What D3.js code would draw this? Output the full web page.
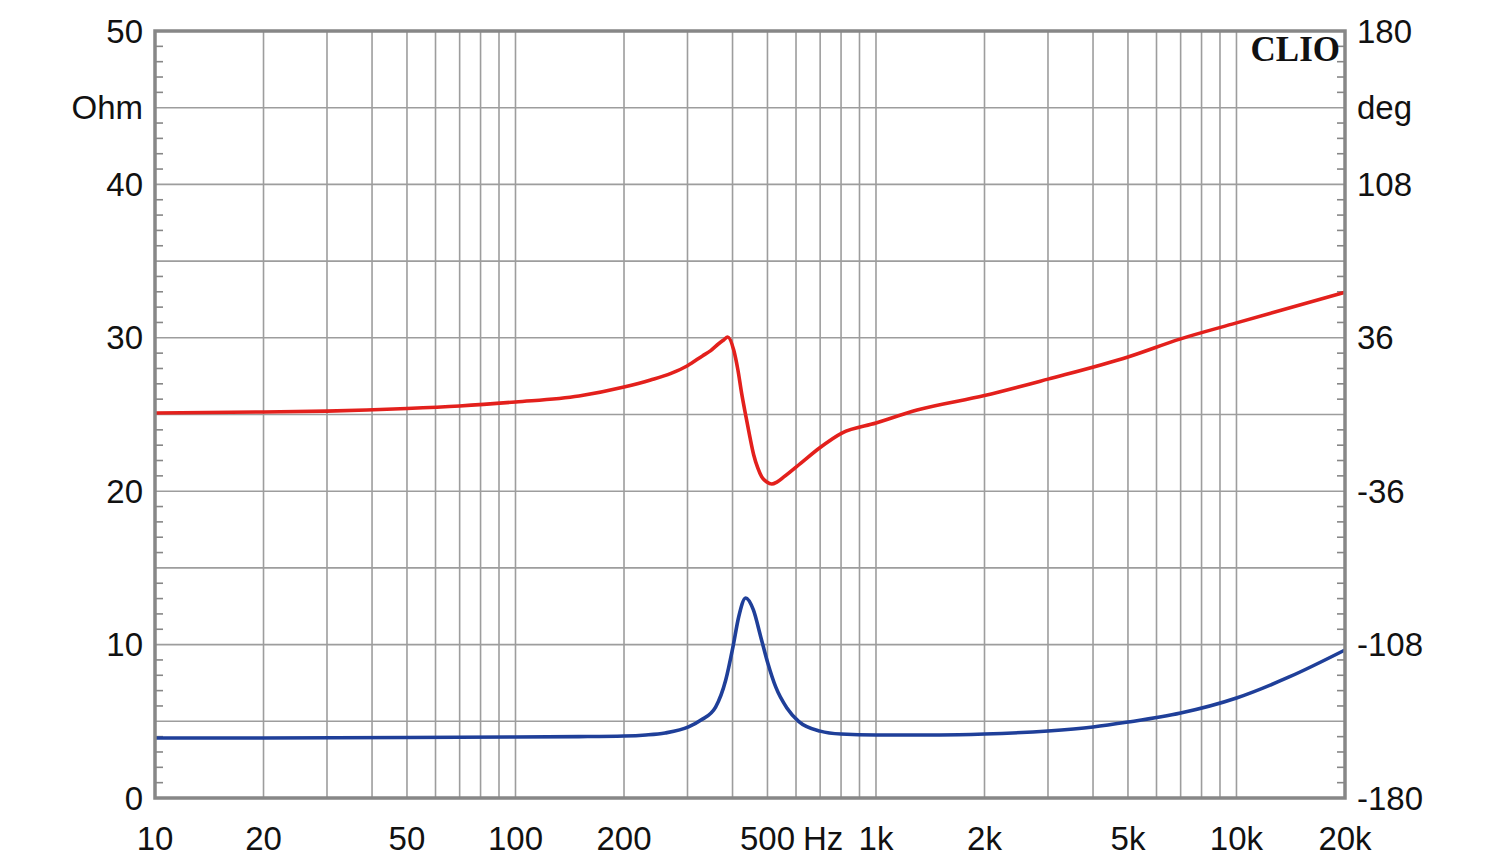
<!DOCTYPE html>
<html>
<head>
<meta charset="utf-8">
<script src="https://cdn.jsdelivr.net/npm/d3@7/dist/d3.min.js"></script>
<style>
  html, body { margin: 0; padding: 0; background: #ffffff; }
  svg { display: block; }
  text { font-family: "Liberation Sans", Arial, sans-serif; }
</style>
</head>
<body>
<svg id="chart" width="1500" height="864"></svg>
<script>
// ---- Data ----
// Impedance magnitude (Ohm), left axis
const impFreq = [10, 20, 50, 100, 150, 200, 230, 260, 302, 327, 359, 383, 401, 416, 435, 457, 479, 501, 527, 566, 610, 700, 800, 1000, 1500, 2000, 3000, 4000, 5000, 7000, 10000, 14000, 20000];
const impOhm  = [3.91, 3.91, 3.94, 3.98, 4.0, 4.04, 4.11, 4.24, 4.63, 5.08, 5.93, 7.69, 9.84, 11.8, 13.04, 12.26, 10.5, 8.8, 7.24, 5.87, 5.0, 4.36, 4.17, 4.11, 4.11, 4.17, 4.37, 4.63, 4.95, 5.54, 6.52, 7.89, 9.65];

// Impedance phase (deg), right axis
const phaseFreq = [10, 20, 30, 50, 70, 100, 150, 200, 237, 270, 300, 330, 348, 366, 378, 388, 403, 414, 424, 435, 447, 458, 470, 482, 498, 514, 531, 555, 619, 697, 804, 1000, 1300, 2000, 3000, 5000, 7000, 10000, 20000];
const phaseDeg  = [0.7, 1.2, 1.6, 2.8, 4.0, 5.9, 8.7, 12.9, 16.2, 19.3, 22.9, 27.5, 30.0, 33.2, 35.0, 36.4, 30.3, 20.9, 9.9, -0.3, -10.6, -19.0, -25.1, -29.3, -31.7, -32.6, -31.7, -29.3, -22.8, -15.7, -8.7, -4.0, 2.1, 8.9, 16.6, 27.0, 35.5, 43.0, 57.4];

// Axis labels
const xTickValues = [10, 20, 50, 100, 200, 500, 1000, 2000, 5000, 10000, 20000];
const xTickLabels = ["10", "20", "50", "100", "200", "500", "1k", "2k", "5k", "10k", "20k"];
const xGridValues = [20, 30, 40, 50, 60, 70, 80, 90, 100, 200, 300, 400, 500, 600, 700, 800, 900, 1000, 2000, 3000, 4000, 5000, 6000, 7000, 8000, 9000, 10000];
const leftTickValues = [0, 10, 20, 30, 40, 50];
const leftTickLabels = ["0", "10", "20", "30", "40", "50"];
const rightTickValues = [-180, -108, -36, 36, 108, 180];
const rightTickLabels = ["-180", "-108", "-36", "36", "108", "180"];
const leftUnit = "Ohm";
const rightUnit = "deg";
const xUnit = "Hz";
const brand = "CLIO";

// ---- Layout ----
const pL = 155, pR = 1345, pT = 31, pB = 798;
const svg = d3.select("#chart");

const x = d3.scaleLog().domain([10, 20000]).range([pL, pR]);
const yL = d3.scaleLinear().domain([0, 50]).range([pB, pT]);
const yR = d3.scaleLinear().domain([-180, 180]).range([pB, pT]);

const gridColor = "#9d9d9d";
const frameColor = "#878787";

// Grid
const g = svg.append("g");
g.selectAll("line.vg").data(xGridValues).enter().append("line")
  .attr("x1", d => x(d)).attr("x2", d => x(d))
  .attr("y1", pT).attr("y2", pB)
  .attr("stroke", gridColor).attr("stroke-width", 1.6);
g.selectAll("line.hg").data(d3.range(5, 50, 5)).enter().append("line")
  .attr("x1", pL).attr("x2", pR)
  .attr("y1", d => yL(d)).attr("y2", d => yL(d))
  .attr("stroke", gridColor).attr("stroke-width", 1.6);

// Minor inward ticks on left and right frames (every 1 Ohm)
const minor = d3.range(1, 50).filter(v => v % 5 !== 0);
g.selectAll("line.ml").data(minor).enter().append("line")
  .attr("x1", pL).attr("x2", pL + 8)
  .attr("y1", d => yL(d)).attr("y2", d => yL(d))
  .attr("stroke", frameColor).attr("stroke-width", 1.6);
g.selectAll("line.mr").data(minor).enter().append("line")
  .attr("x1", pR).attr("x2", pR - 8)
  .attr("y1", d => yL(d)).attr("y2", d => yL(d))
  .attr("stroke", frameColor).attr("stroke-width", 1.6);

// Curves
const lineImp = d3.line()
  .x((d, i) => x(impFreq[i])).y(d => yL(d))
  .curve(d3.curveMonotoneX);
const linePh = d3.line()
  .x((d, i) => x(phaseFreq[i])).y(d => yR(d))
  .curve(d3.curveMonotoneX);

svg.append("path").datum(phaseDeg)
  .attr("d", linePh).attr("fill", "none")
  .attr("stroke", "#e3201c").attr("stroke-width", 3.6)
  .attr("stroke-linejoin", "round");
svg.append("path").datum(impOhm)
  .attr("d", lineImp).attr("fill", "none")
  .attr("stroke", "#1f3f99").attr("stroke-width", 3.6)
  .attr("stroke-linejoin", "round");

// Frame
svg.append("rect")
  .attr("x", pL).attr("y", pT)
  .attr("width", pR - pL).attr("height", pB - pT)
  .attr("fill", "none").attr("stroke", frameColor).attr("stroke-width", 3.5);

// Labels
const fs = 33;
const labelColor = "#111";
svg.selectAll("text.yl").data(leftTickValues).enter().append("text")
  .attr("x", 143).attr("y", d => yL(d))
  .attr("text-anchor", "end").attr("dominant-baseline", "central")
  .attr("font-size", fs).attr("fill", labelColor)
  .text((d, i) => leftTickLabels[i]);
svg.append("text").attr("x", 143).attr("y", yL(45))
  .attr("text-anchor", "end").attr("dominant-baseline", "central")
  .attr("font-size", fs).attr("fill", labelColor).text(leftUnit);

svg.selectAll("text.yr").data(rightTickValues).enter().append("text")
  .attr("x", 1357).attr("y", d => yR(d))
  .attr("text-anchor", "start").attr("dominant-baseline", "central")
  .attr("font-size", fs).attr("fill", labelColor)
  .text((d, i) => rightTickLabels[i]);
svg.append("text").attr("x", 1357).attr("y", yR(144))
  .attr("text-anchor", "start").attr("dominant-baseline", "central")
  .attr("font-size", fs).attr("fill", labelColor).text(rightUnit);

svg.selectAll("text.xl").data(xTickValues).enter().append("text")
  .attr("x", d => x(d)).attr("y", 838)
  .attr("text-anchor", "middle").attr("dominant-baseline", "central")
  .attr("font-size", fs).attr("fill", labelColor)
  .text((d, i) => xTickLabels[i]);
svg.append("text").attr("x", x(700) + 3).attr("y", 838)
  .attr("text-anchor", "middle").attr("dominant-baseline", "central")
  .attr("font-size", fs).attr("fill", labelColor).text(xUnit);

svg.append("text").attr("x", 1340).attr("y", 49)
  .attr("text-anchor", "end").attr("dominant-baseline", "central")
  .style("font-family", "'Liberation Serif', 'Times New Roman', serif")
  .attr("font-weight", "bold").attr("font-size", 35).attr("fill", "#111")
  .text(brand);
</script>
</body>
</html>
